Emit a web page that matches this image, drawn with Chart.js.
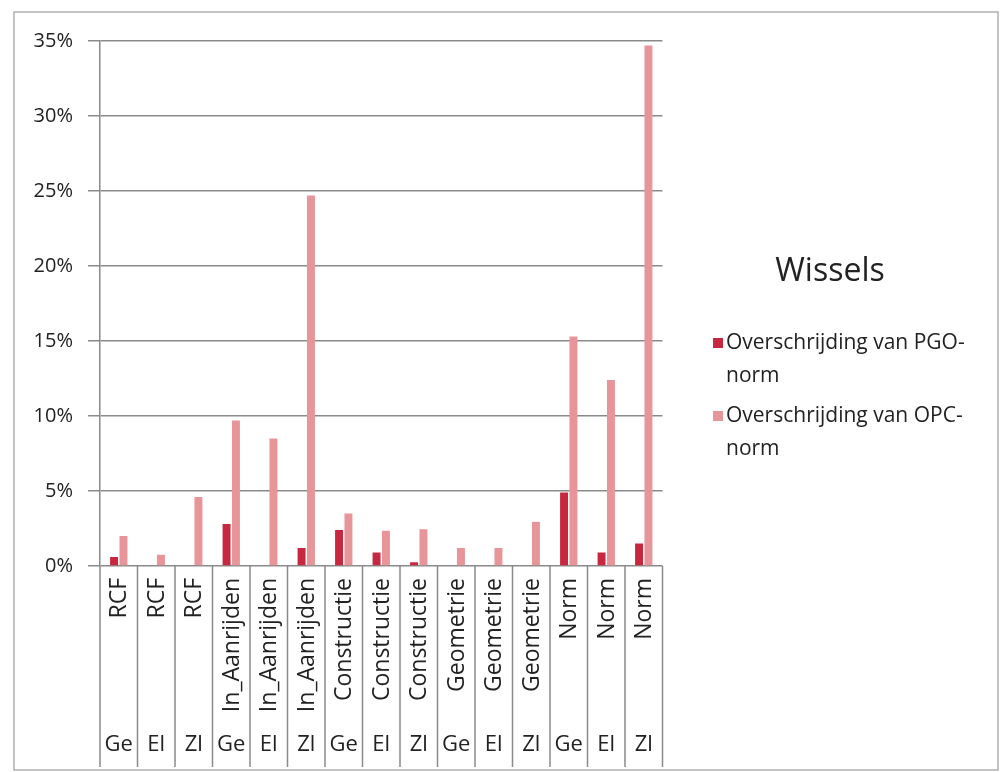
<!DOCTYPE html>
<html>
<head>
<meta charset="utf-8">
<script src="https://cdn.jsdelivr.net/npm/chart.js@4/dist/chart.umd.min.js"></script>
<style>
	html, body { margin: 0; padding: 0; background: #fff; }
	#wrap { width: 1000px; height: 772px; position: relative; }
</style>
</head>
<body>
<div id="wrap"><canvas id="wisselChart" width="1000" height="772"></canvas></div>
<script>
"use strict"

// DATA -----------------------
const groups = ["RCF", "RCF", "RCF", "In_Aanrijden", "In_Aanrijden", "In_Aanrijden",
	"Constructie", "Constructie", "Constructie", "Geometrie", "Geometrie", "Geometrie",
	"Norm", "Norm", "Norm"]
const regions = ["Ge", "El", "Zl", "Ge", "El", "Zl", "Ge", "El", "Zl",
	"Ge", "El", "Zl", "Ge", "El", "Zl"]

const pgoValues = [0.6, 0, 0, 2.8, 0, 1.2, 2.4, 0.9, 0.25, 0, 0, 0, 4.9, 0.9, 1.5]
const opcValues = [2.0, 0.75, 4.6, 9.7, 8.5, 24.7, 3.5, 2.35, 2.45, 1.2, 1.2, 2.95, 15.3, 12.4, 34.7]

const seriesNames = [
	["Overschrijding van PGO-", "norm"],
	["Overschrijding van OPC-", "norm"],
]
const chartTitle = "Wissels"
const yTicks = [0, 5, 10, 15, 20, 25, 30, 35]

const colors = ["#c8283f", "#e8959a"]
const FONT = "'Open Sans', sans-serif"
const TEXT = "#222222"

// PLUGIN: two-level category labels, legend, outer frame -----------------------
const labelsPlugin = {
	id: "multiLabels",
	afterDraw(chart) {
		const ctx = chart.ctx
		const x = chart.scales.x
		const area = chart.chartArea
		const step = x.getPixelForValue(1) - x.getPixelForValue(0)

		ctx.save()
		// outer frame
		ctx.strokeStyle = "#b0b0b0"
		ctx.lineWidth = 1.5
		ctx.strokeRect(14, 12, 984, 758)

		// separators
		ctx.strokeStyle = "#8a8a8a"
		ctx.lineWidth = 1.5
		for (let i = 0; i <= groups.length; i++) {
			let px = x.getPixelForValue(i) - step / 2
			ctx.beginPath()
			ctx.moveTo(px, area.bottom)
			ctx.lineTo(px, 767)
			ctx.stroke()
		}

		// labels
		ctx.fillStyle = TEXT
		for (let i = 0; i < groups.length; i++) {
			let px = x.getPixelForValue(i)
			ctx.save()
			ctx.translate(px, area.bottom + 12)
			ctx.rotate(-Math.PI / 2)
			ctx.font = "23px " + FONT
			ctx.textAlign = "right"
			ctx.textBaseline = "middle"
			ctx.fillText(groups[i], 0, 1)
			ctx.restore()

			ctx.font = "22px " + FONT
			ctx.textAlign = "center"
			ctx.textBaseline = "middle"
			ctx.fillText(regions[i], px, 745)
		}

		// legend
		ctx.font = "32px " + FONT
		ctx.textAlign = "center"
		ctx.textBaseline = "middle"
		ctx.fillText(chartTitle, 830, 272)

		ctx.font = "21px " + FONT
		ctx.textAlign = "left"
		for (let s = 0; s < seriesNames.length; s++) {
			let top = 343 + s * 73
			ctx.fillStyle = colors[s]
			ctx.fillRect(713, top - 5, 10, 10)
			ctx.fillStyle = TEXT
			ctx.fillText(seriesNames[s][0], 726, top)
			ctx.fillText(seriesNames[s][1], 726, top + 33)
		}
		ctx.restore()
	},
}

// CHART -----------------------
new Chart(document.getElementById("wisselChart").getContext("2d"), {
	type: "bar",
	data: {
		labels: regions.map((r, i) => groups[i] + " " + r),
		datasets: [
			{
				label: seriesNames[0].join(""),
				data: pgoValues,
				backgroundColor: colors[0],
				barPercentage: 0.85,
				categoryPercentage: 0.5,
			},
			{
				label: seriesNames[1].join(""),
				data: opcValues,
				backgroundColor: colors[1],
				barPercentage: 0.85,
				categoryPercentage: 0.5,
			},
		],
	},
	options: {
		responsive: false,
		animation: false,
		layout: {
			padding: { left: 14, right: 337.5, top: 41, bottom: 206 },
		},
		plugins: {
			legend: { display: false },
			tooltip: { enabled: false },
		},
		scales: {
			x: {
				display: false,
			},
			y: {
				min: 0,
				max: 35,
				afterFit(scale) {
					scale.width = 86
				},
				afterBuildTicks(scale) {
					scale.ticks = yTicks.map((v) => ({ value: v }))
				},
				ticks: {
					padding: 15,
					color: TEXT,
					font: { family: FONT, size: 20 },
					callback: (v) => v + "%",
				},
				grid: {
					color: "#8a8a8a",
					lineWidth: 1.5,
					tickLength: 12,
				},
				border: { color: "#8a8a8a", width: 1.5 },
			},
		},
	},
	plugins: [labelsPlugin],
})
</script>
</body>
</html>
